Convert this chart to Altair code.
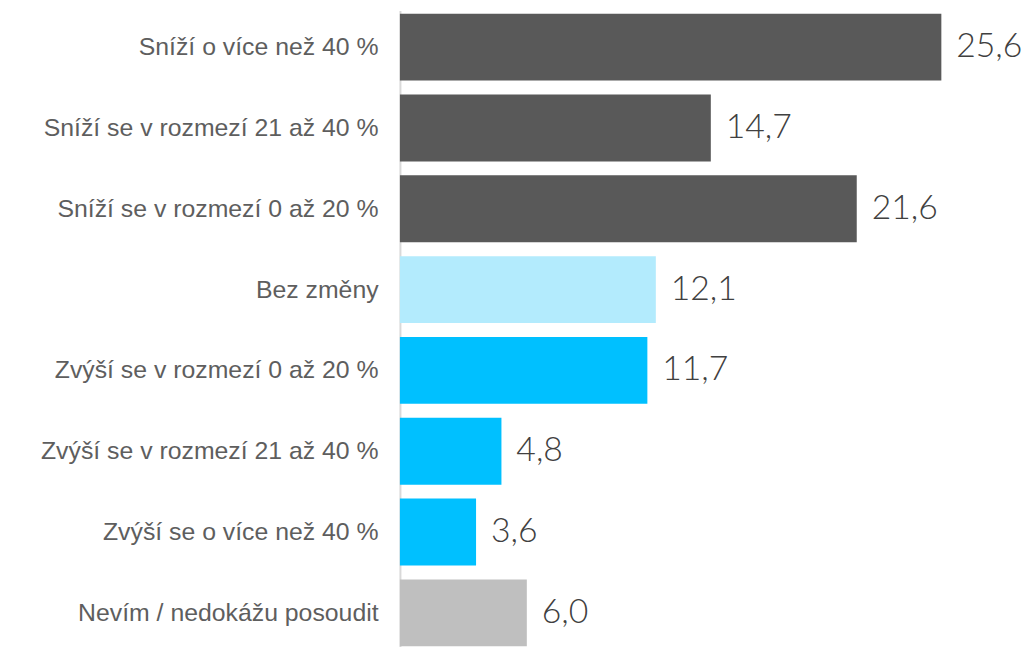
import altair as alt
import pandas as pd

categories = [
    "Sníží o více než 40 %",
    "Sníží se v rozmezí 21 až 40 %",
    "Sníží se v rozmezí 0 až 20 %",
    "Bez změny",
    "Zvýší se v rozmezí 0 až 20 %",
    "Zvýší se v rozmezí 21 až 40 %",
    "Zvýší se o více než 40 %",
    "Nevím / nedokážu posoudit",
]
values = [25.6, 14.7, 21.6, 12.1, 11.7, 4.8, 3.6, 6.0]
labels = ["25,6", "14,7", "21,6", "12,1", "11,7", "4,8", "3,6", "6,0"]
colors = ["#595959", "#595959", "#595959", "#b3ebfd", "#00c0ff", "#00c0ff", "#00c0ff", "#bfbfbf"]

df = pd.DataFrame({"cat": categories, "val": values, "lab": labels, "col": colors})

y = alt.Y("cat:N", sort=categories,
          scale=alt.Scale(paddingInner=0.173, paddingOuter=0.04),
          axis=alt.Axis(title=None, ticks=False, labelFontSize=25, labelFont="Arial",
                        labelFontWeight="normal",
                        labelColor="#5e5e5e", labelPadding=22, domainColor="#d9d9d9",
                        domainWidth=2, labelLimit=420))
x = alt.X("val:Q", scale=alt.Scale(domain=[0, 29.65], nice=False), axis=None)

bars = alt.Chart(df).mark_bar().encode(x=x, y=y, color=alt.Color("col:N", scale=None))
text = alt.Chart(df).mark_text(align="left", baseline="middle", dx=15, fontSize=34,
                               font="Lato", fontWeight=300, color="#404040").encode(
    x=x, y=y, text="lab:N")

chart = (bars + text).properties(
    width=632, height=644,
    autosize=alt.AutoSizeParams(type="none"),
    padding={"left": 395, "top": 0, "right": 0, "bottom": 0},
).configure_view(stroke=None)

chart.save("out.html", embed_options={"renderer": "svg", "actions": False})
